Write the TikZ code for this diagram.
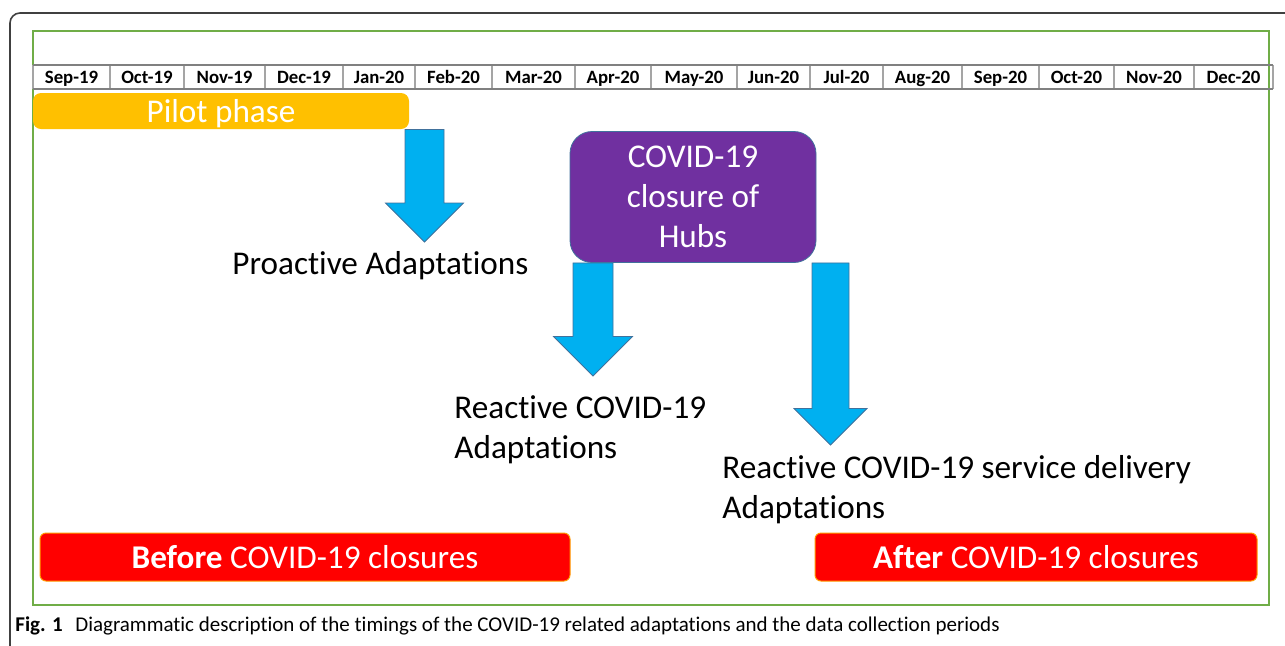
\documentclass[tikz,border=0pt]{standalone}
\usepackage{fontspec}
\setmainfont{Carlito}[Ligatures=NoCommon]
\usepackage{tikz}
\usetikzlibrary{calc}
\definecolor{pilotorange}{RGB}{255, 192, 0}
\definecolor{hubpurple}{RGB}{112, 48, 160}
\definecolor{arrowblue}{RGB}{0, 176, 240}
\definecolor{edgeblue}{RGB}{65, 113, 156}
\definecolor{framegreen}{RGB}{112, 173, 71}
\definecolor{closurered}{RGB}{255, 0, 0}
\definecolor{gridgray}{RGB}{165, 165, 165}

\newcommand{\bigtext}{\fontsize{16.6}{20}\selectfont}
\newcommand{\monthtext}{\fontsize{9.4}{11}\selectfont\bfseries}
\newcommand{\captext}{\fontsize{10.5}{12}\selectfont}

% fat down arrow: tail, tip, half shaft width, half head width
\newcommand{\blockarrow}[4]{%
    \draw[fatarrow] ($(#1)+(-#3,0)$) -- ($(#1)+(#3,0)$) -- ($(#2)+(#3,-#4)$)
        -- ($(#2)+(#4,-#4)$) -- (#2) -- ($(#2)+(-#4,-#4)$) -- ($(#2)+(-#3,-#4)$) -- cycle;
}

\begin{document}
\begin{tikzpicture}[
        x=0.5pt, y=-0.5pt,
        banner/.style={
            rectangle, rounded corners=4pt, fill=#1, text=white,
            inner sep=0pt, font=\bigtext,
        },
        month/.style={font=\monthtext, inner sep=0pt, anchor=base},
        adapt/.style={font=\bigtext, inner sep=0pt, align=left},
        fatarrow/.style={fill=arrowblue, draw=edgeblue, line width=0.4pt},
        cellline/.style={draw=gridgray, line width=0.6pt},
    ]
    \useasboundingbox (0,0) rectangle (1285,645);

    % frames
    \draw[black!75, line width=0.8pt, rounded corners=5pt] (10,660) |- (1300,13);
    \draw[framegreen, line width=0.8pt] (33,31) rectangle (1269,605);

    % month row
    \draw[cellline] (33,65) -- (33,89);
    \foreach \l/\r/\m in {33/110/Sep-19, 110/184/Oct-19, 184/265/Nov-19, 265/343/Dec-19,
            343/415/Jan-20, 415/492/Feb-20, 492/575/Mar-20, 575/651/Apr-20,
            651/737/May-20, 737/810/Jun-20, 810/883/Jul-20, 883/962/Aug-20,
            962/1039/Sep-20, 1039/1114/Oct-20, 1114/1194/Nov-20, 1194/1273/Dec-20} {
        \draw[cellline] (\r,65) -- (\r,89);
        \node[month] (m-\m) at ({(\l+\r)/2},83) {\m};
    }
    \draw[gray, line width=1.1pt] (33,65) -- (1273,65);
    \draw[gray, line width=1.1pt] (33,89) -- (1273,89);

    % phases and events
    \node[banner=pilotorange, minimum width=188pt, minimum height=18pt] (pilot) at (221,111) {};
    \node[font=\bigtext, text=white, anchor=base, inner sep=0pt] (pilot text) at (221,122) {Pilot phase};
    \node[banner=hubpurple, draw=edgeblue, line width=0.4pt, rounded corners=11pt,
        minimum width=123pt, minimum height=65.5pt, align=center] (hubs) at (693,197)
        {COVID-19\\closure of\\Hubs};

    \node[adapt, anchor=base west] (proactive) at (232,274) {Proactive Adaptations};
    \node[adapt, anchor=north west] (reactive) at (454,395) {Reactive COVID-19\\Adaptations};
    \node[adapt, anchor=north west] (service) at (722,455) {Reactive COVID-19 service delivery\\Adaptations};

    \node[banner=closurered, draw=pilotorange!80!red, line width=0.5pt, rounded corners=3pt,
        minimum width=265pt, minimum height=24pt] (before) at (305,557)
        {\textbf{Before} COVID-19 closures};
    \node[banner=closurered, draw=pilotorange!80!red, line width=0.5pt, rounded corners=3pt,
        minimum width=221pt, minimum height=24pt] (after) at (1036,557)
        {\textbf{After} COVID-19 closures};

    % arrows
    \coordinate (pilot tail) at (424.5,0 |- pilot.south);
    \coordinate (pilot tip) at (424.5,242);
    \coordinate (hubs left tail) at (593,0 |- hubs.south);
    \coordinate (hubs left tip) at (593,376);
    \coordinate (hubs right tail) at (830.5,0 |- hubs.south);
    \coordinate (hubs right tip) at (830.5,445);
    \blockarrow{pilot tail}{pilot tip}{19.5}{39}
    \blockarrow{hubs left tail}{hubs left tip}{20}{39.5}
    \blockarrow{hubs right tail}{hubs right tip}{18.5}{36.5}

    \node[font=\captext, anchor=base west, inner sep=0pt] (caption) at (15,631)
        {\textbf{Fig. 1}\hspace{0.6em}Diagrammatic description of the timings of the COVID-19 related adaptations and the data collection periods};
\end{tikzpicture}
\end{document}
